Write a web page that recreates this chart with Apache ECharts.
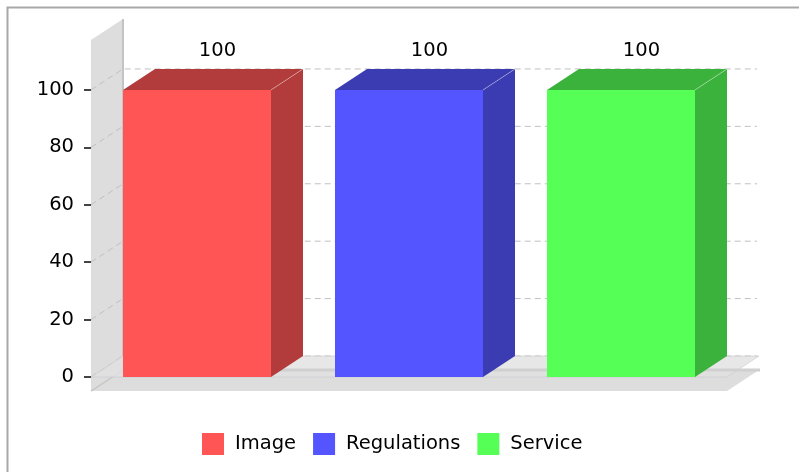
<!DOCTYPE html>
<html>
<head>
<meta charset="utf-8">
<title>3D bar chart</title>
<script src="https://cdn.jsdelivr.net/npm/echarts@6/dist/echarts.min.js"></script>
<style>
  html, body { margin: 0; padding: 0; background: #ffffff; }
  #chart { width: 799px; height: 472px; }
</style>
</head>
<body>
<div id="chart"></div>
<script>
// Series names (one bar each) and their values
const categories = ['Image', 'Regulations', 'Service'];
const values = [100, 100, 100];

// Front-face colours and the darker top/side colours
const frontColors = ['#ff5555', '#5555ff', '#55ff55'];
const sideColors = ['#b23b3b', '#3b3bb2', '#3bb23b'];

// Value axis ticks and range (the floor sits a little below zero)
const yTicks = [0, 20, 40, 60, 80, 100];
const axisFloor = -4.9;
const axisCeil = 117.4;

// 3D depth of the plot, in pixels
const DX = 32;
const DY = 21;
const BAR_RATIO = 148 / 212;
const FONT = '"DejaVu Sans", "Liberation Sans", sans-serif';

const chart = echarts.init(document.getElementById('chart'), null, { renderer: 'canvas' });

// Walls, floor, gridlines and the zero plane behind the bars
function renderFrame(params, api) {
  const left = api.coord([0, 0])[0] - api.size([1, 0])[0] / 2;
  const right = api.coord([categories.length - 1, 0])[0] + api.size([1, 0])[0] / 2;
  const yTop = api.coord([0, axisCeil])[1];
  const yFloor = api.coord([0, axisFloor])[1];
  const yZero = api.coord([0, 0])[1];
  const children = [];

  // left wall
  children.push({
    type: 'polygon',
    shape: { points: [[left, yTop], [left + DX, yTop - DY], [left + DX, yFloor - DY], [left, yFloor]] },
    style: { fill: '#dddddd' }
  });
  // floor
  children.push({
    type: 'polygon',
    shape: { points: [[left, yFloor], [left + DX, yFloor - DY], [right + DX, yFloor - DY], [right, yFloor]] },
    style: { fill: '#dddddd' }
  });
  // wall edges
  children.push({
    type: 'polyline',
    shape: { points: [[left + DX, yTop - DY], [left + DX, yFloor - DY], [right + DX, yFloor - DY]] },
    style: { stroke: '#c4c4c4', lineWidth: 2, fill: null }
  });
  children.push({
    type: 'line',
    shape: { x1: left, y1: yFloor, x2: left + DX, y2: yFloor - DY },
    style: { stroke: '#c8c8c8', lineWidth: 1.5 }
  });

  // dashed gridlines across the wall and the back plane
  yTicks.forEach(function (v) {
    const y = api.coord([0, v])[1];
    children.push({
      type: 'polyline',
      shape: { points: [[left, y], [left + DX, y - DY], [right + DX - 2, y - DY]] },
      style: { stroke: '#c0c0c0', lineWidth: 1, lineDash: [6, 4], fill: null }
    });
  });

  // zero plane
  children.push({
    type: 'polygon',
    shape: { points: [[left, yZero], [left + DX, yZero - DY], [right + DX, yZero - DY], [right, yZero]] },
    style: { fill: 'rgba(225,225,225,0.8)', stroke: 'rgba(200,200,210,0.6)', lineWidth: 1 }
  });
  children.push({
    type: 'line',
    shape: { x1: left + DX, y1: yFloor - DY, x2: right + DX + 1, y2: yFloor - DY },
    style: { stroke: '#d0d0d0', lineWidth: 3 }
  });

  return { type: 'group', children: children };
}

// One 3D bar: front face, top face, right side face and the value label
function makeBarRenderer(idx) {
  return function (params, api) {
    const cat = api.value(0);
    const val = api.value(1);
    const center = api.coord([cat, val]);
    const base = api.coord([cat, 0]);
    const w = api.size([1, 0])[0] * BAR_RATIO;
    const xl = center[0] - w / 2;
    const xr = center[0] + w / 2;
    const yt = center[1];
    const yb = base[1];
    return {
      type: 'group',
      children: [
        {
          type: 'rect',
          shape: { x: xl, y: yt, width: w, height: yb - yt },
          style: { fill: frontColors[idx] }
        },
        {
          type: 'polygon',
          shape: { points: [[xl, yt], [xl + DX, yt - DY], [xr + DX, yt - DY], [xr, yt]] },
          style: { fill: sideColors[idx] }
        },
        {
          type: 'polygon',
          shape: { points: [[xr, yt], [xr + DX, yt - DY], [xr + DX, yb - DY], [xr, yb]] },
          style: { fill: sideColors[idx] }
        },
        {
          type: 'line',
          shape: { x1: xr, y1: yt, x2: xr + DX, y2: yt - DY },
          style: { stroke: 'rgba(255,255,255,0.35)', lineWidth: 1 }
        },
        {
          type: 'text',
          style: {
            text: String(val),
            x: center[0] + DX * 0.64,
            y: yt - DY - 8,
            textAlign: 'center',
            textVerticalAlign: 'bottom',
            fill: '#000000',
            font: '19.5px ' + FONT
          }
        }
      ]
    };
  };
}

const series = [{
  type: 'custom',
  name: 'frame',
  silent: true,
  z: 1,
  data: [[0, 0]],
  renderItem: renderFrame
}];

categories.forEach(function (name, i) {
  series.push({
    type: 'custom',
    name: name,
    z: 2,
    itemStyle: { color: frontColors[i] },
    data: [[i, values[i]]],
    renderItem: makeBarRenderer(i)
  });
});

chart.setOption({
  animation: false,
  backgroundColor: '#ffffff',
  textStyle: { fontFamily: FONT },
  graphic: [{
    type: 'rect',
    shape: { x: 7.5, y: 7.5, width: 830, height: 520 },
    style: { fill: null, stroke: '#a8a8a8', lineWidth: 2 },
    z: 0
  }],
  grid: { left: 91, right: 72, top: 40, bottom: 95 },
  xAxis: {
    type: 'category',
    data: categories,
    show: false
  },
  yAxis: {
    type: 'value',
    min: 0,
    max: axisCeil,
    interval: 20,
    axisLine: { show: false },
    axisTick: { show: true, length: 7, lineStyle: { color: '#444444', width: 2 } },
    splitLine: { show: false },
    axisLabel: {
      margin: 17,
      color: '#000000',
      fontSize: 19.5,
      fontFamily: FONT,
      showMaxLabel: false
    }
  },
  legend: {
    data: categories,
    left: 197,
    top: 428,
    orient: 'horizontal',
    icon: 'rect',
    itemWidth: 22,
    itemHeight: 22,
    itemGap: 17,
    textStyle: { color: '#000000', fontSize: 19.5, fontFamily: FONT, padding: [0, 0, 0, 6] }
  },
  series: series
});
</script>
</body>
</html>
